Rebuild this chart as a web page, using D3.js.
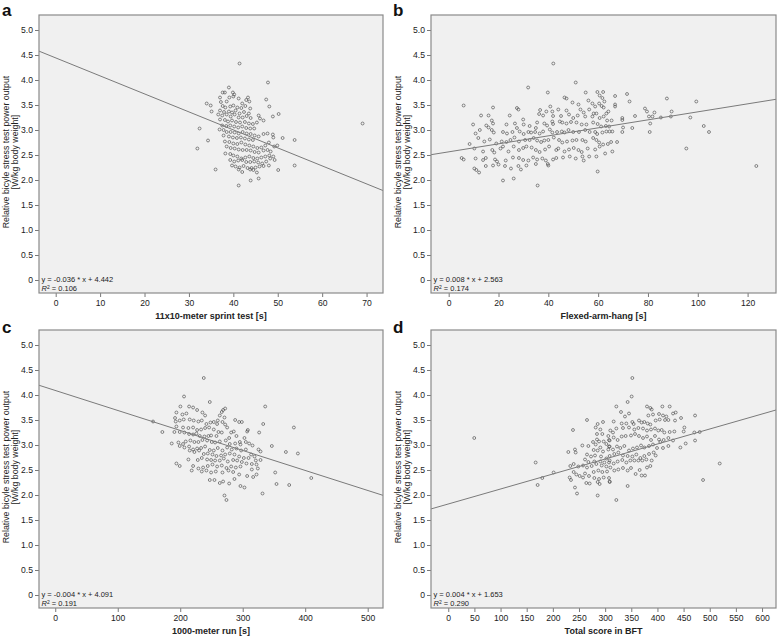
<!DOCTYPE html>
<html><head><meta charset="utf-8">
<script src="https://cdn.jsdelivr.net/npm/d3@7/dist/d3.min.js"></script>
<style>html,body{margin:0;padding:0;background:#fff;}svg{display:block;}</style>
</head><body>
<svg id="chart" width="778" height="637"></svg>
<script>
// ---------------- DATA ----------------
const yTicks = [0, 0.5, 1.0, 1.5, 2.0, 2.5, 3.0, 3.5, 4.0, 4.5, 5.0];
const xTicksA = [0, 10, 20, 30, 40, 50, 60, 70];
const xTicksB = [0, 20, 40, 60, 80, 100, 120];
const xTicksC = [0, 100, 200, 300, 400, 500];
const xTicksD = [0, 50, 100, 150, 200, 250, 300, 350, 400, 450, 500, 550, 600];
const panelLetters = ["a", "b", "c", "d"];
const xTitles = ["11x10-meter sprint test [s]", "Flexed-arm-hang [s]", "1000-meter run [s]", "Total score in BFT"];
const yTitle1 = "Relative bicyle stress test power output";
const yTitle2 = "[W/kg body weight]";
const equations = ["y = -0.036 * x + 4.442", "y = 0.008 * x + 2.563", "y = -0.004 * x + 4.091", "y = 0.004 * x + 1.653"];
const rSquared = ["0.106", "0.174", "0.191", "0.290"];
// fitted lines as drawn [intercept, slope]
const fitA = [4.442, -0.036];
const fitB = [2.563, 0.008];
const fitC = [4.091, -0.004];
const fitD = [1.82, 0.003];

const pointsA = [[41.4,4.33],[69.1,3.13],[47.8,3.95],[39.0,3.85],[37.6,3.75],[38.1,3.75],[39.9,3.75],[40.2,3.71],[40.0,3.67],[39.1,3.65],[37.0,3.65],[41.2,3.63],[43.3,3.65],[43.6,3.57],[42.0,3.53],[47.4,3.61],[37.2,3.56],[38.5,3.57],[42.9,3.6],[34.0,3.53],[34.9,3.49],[48.1,3.47],[50.2,3.32],[48.9,3.27],
[37.6,3.48],[38.2,3.45],[39.3,3.47],[40.0,3.49],[40.9,3.45],[41.8,3.44],[42.7,3.48],[43.8,3.43],[37.0,3.39],[37.9,3.36],[39.0,3.37],[39.7,3.35],[40.5,3.39],[41.4,3.33],[42.4,3.36],[43.5,3.33],[35.1,3.37],[36.6,3.31],[37.5,3.29],[38.5,3.31],[39.4,3.27],[40.3,3.31],[41.2,3.25],[42.1,3.25],[43.0,3.28],[43.9,3.24],[45.7,3.29],[46.0,3.23],[45.3,3.15],[46.8,3.19],
[37.0,3.21],[38.1,3.2],[38.8,3.17],[39.7,3.19],[40.6,3.16],[41.5,3.15],[42.6,3.16],[43.5,3.13],[44.4,3.12],[37.5,3.09],[38.4,3.08],[39.3,3.09],[40.2,3.07],[41.1,3.05],[42.0,3.07],[42.9,3.04],[43.8,3.03],[44.7,3.03],[32.4,3.03],[36.9,3.01],[37.8,3.0],
[38.5,2.96],[39.4,2.96],[40.3,2.95],[41.2,2.93],[42.1,2.96],[43.0,2.93],[43.9,2.92],[44.8,2.89],[45.7,2.87],[37.8,2.89],[39.0,2.87],[39.9,2.85],[40.8,2.84],[41.7,2.85],[42.6,2.83],[43.5,2.81],[44.4,2.8],[46.8,2.92],[47.7,2.93],[48.9,2.91],[49.0,2.85],[51.1,2.84],[53.8,2.8],[34.3,2.79],
[38.1,2.77],[39.1,2.76],[40.0,2.73],[40.9,2.72],[41.8,2.75],[42.7,2.71],[43.6,2.69],[44.5,2.67],[45.4,2.64],[46.3,2.65],[47.2,2.69],[48.0,2.75],[38.5,2.67],[39.4,2.64],[40.3,2.63],[41.2,2.61],[42.1,2.6],[43.0,2.6],[43.9,2.59],[44.8,2.56],[45.7,2.55],[46.8,2.59],[47.7,2.6],[48.4,2.57],[49.2,2.67],[49.9,2.69],[31.9,2.63],
[38.2,2.53],[39.3,2.52],[40.0,2.49],[40.9,2.47],[41.8,2.43],[42.7,2.45],[43.6,2.47],[44.5,2.44],[45.4,2.43],[46.3,2.45],[47.2,2.47],[48.1,2.49],[39.3,2.4],[40.2,2.37],[41.1,2.39],[42.0,2.4],[42.9,2.36],[43.8,2.36],[44.7,2.37],[45.6,2.35],[46.5,2.33],[47.4,2.37],[48.3,2.43],[49.0,2.47],[49.3,2.4],
[39.7,2.29],[40.5,2.27],[41.4,2.25],[42.3,2.28],[43.2,2.24],[44.1,2.24],[45.0,2.25],[45.9,2.27],[46.8,2.28],[48.0,2.29],[36.0,2.21],[41.2,2.21],[43.8,2.21],[44.5,2.2],[42.0,2.16],[45.3,2.15],[53.8,2.29],[50.1,2.2],
[43.9,1.99],[45.7,2.03],[41.2,1.89]];

const pointsB = [[42.0,4.33],[51.0,3.95],[31.9,3.85],[39.8,3.75],[55.0,3.75],[59.7,3.76],[62.0,3.76],
[46.5,3.65],[47.3,3.63],[49.7,3.55],[56.1,3.59],[60.6,3.69],[61.7,3.64],[62.5,3.57],[60.4,3.53],[57.7,3.53],[61.4,3.48],[58.8,3.47],[62.2,3.45],
[6.0,3.49],[17.8,3.45],[27.4,3.44],[28.0,3.41],[36.7,3.4],[40.8,3.47],[39.2,3.37],[41.6,3.37],[44.0,3.41],[47.3,3.39],[52.1,3.51],[52.9,3.41],[56.4,3.41],[54.2,3.35],[58.2,3.33],[59.3,3.33],[63.3,3.33],[64.1,3.37],
[13.0,3.29],[16.0,3.29],[24.5,3.29],[29.9,3.21],[36.3,3.32],[37.9,3.29],[41.9,3.28],[45.1,3.28],[48.3,3.31],[50.0,3.24],[51.8,3.29],[54.8,3.27],[57.7,3.27],[60.6,3.24],[62.2,3.27],[63.6,3.19],
[9.8,3.11],[17.3,3.19],[15.1,3.09],[17.8,3.13],[23.2,3.11],[26.6,3.13],[27.4,3.04],[30.1,3.11],[32.5,3.08],[35.5,3.15],[38.4,3.13],[39.5,3.09],[41.6,3.17],[41.9,3.12],[44.6,3.17],[45.6,3.15],[47.3,3.13],[49.1,3.16],[51.3,3.15],[53.4,3.11],[55.3,3.11],[58.0,3.15],[59.8,3.12],[61.2,3.07],[63.1,3.08],[64.4,3.07],
[10.8,2.93],[12.5,3.0],[16.0,3.05],[17.3,3.0],[18.1,2.95],[21.8,2.96],[23.4,2.93],[25.6,2.96],[28.5,2.97],[30.1,2.92],[32.0,2.96],[33.1,2.95],[35.0,3.04],[34.7,2.96],[36.5,2.93],[37.9,2.97],[40.6,3.01],[41.6,2.95],[43.5,2.96],[45.4,2.97],[46.5,2.95],[48.1,3.0],[50.0,2.96],[52.3,2.96],[54.8,3.0],[56.6,2.96],[58.8,2.96],[59.6,2.92],[61.7,2.95],[63.3,2.97],
[11.9,2.84],[8.4,2.72],[14.3,2.77],[16.5,2.81],[19.1,2.73],[21.3,2.77],[23.2,2.76],[24.8,2.8],[26.4,2.85],[28.2,2.77],[30.7,2.8],[32.5,2.8],[34.1,2.84],[35.5,2.79],[37.1,2.76],[38.4,2.79],[40.0,2.8],[42.2,2.85],[44.3,2.8],[45.6,2.75],[47.5,2.77],[49.7,2.79],[51.3,2.8],[53.7,2.8],[55.0,2.77],[58.0,2.84],[59.3,2.8],[60.4,2.75],[62.0,2.71],[63.9,2.72],
[10.3,2.63],[13.8,2.57],[17.5,2.6],[18.3,2.55],[20.8,2.63],[21.8,2.67],[24.0,2.57],[26.1,2.67],[28.2,2.6],[29.9,2.64],[31.2,2.67],[33.3,2.65],[35.0,2.6],[36.5,2.56],[38.7,2.61],[40.3,2.67],[43.2,2.6],[44.0,2.63],[46.5,2.57],[48.3,2.61],[50.2,2.64],[52.1,2.6],[53.4,2.56],[55.8,2.63],[58.8,2.61],[60.6,2.67],[62.8,2.53],
[5.2,2.44],[6.0,2.41],[10.8,2.43],[13.8,2.4],[14.9,2.44],[18.6,2.41],[19.4,2.37],[22.9,2.39],[25.8,2.45],[28.2,2.44],[29.9,2.4],[32.0,2.39],[33.9,2.45],[35.5,2.41],[37.6,2.43],[39.0,2.39],[39.8,2.32],[41.9,2.41],[43.2,2.44],[45.9,2.45],[48.6,2.47],[51.0,2.43],[53.7,2.47],[54.2,2.39],[56.4,2.47],[59.3,2.47],
[10.3,2.23],[11.1,2.2],[12.2,2.15],[14.9,2.28],[17.8,2.29],[20.0,2.31],[22.6,2.28],[25.0,2.23],[28.0,2.28],[29.0,2.21],[31.2,2.29],[35.0,2.32],[40.0,2.29],[59.8,2.17],
[21.8,1.99],[26.1,2.03],[35.7,1.89],
[66.8,3.68],[71.6,3.72],[72.6,3.57],[66.8,3.51],[66.8,3.47],[87.6,3.63],[99.4,3.57],[78.8,3.43],[79.6,3.37],[82.6,3.35],[89.5,3.37],[74.8,3.28],[80.4,3.27],[81.8,3.27],[85.2,3.25],[89.2,3.27],[97.0,3.25],[69.7,3.24],[69.7,3.2],[65.4,3.19],[80.9,3.13],[70.0,3.05],[73.7,3.04],[102.4,3.08],[64.6,2.97],[65.7,2.97],[69.7,2.96],[80.7,2.96],[104.5,2.96],[65.2,2.76],[67.6,2.76],[65.7,2.57],[95.4,2.63],[123.5,2.28]];

const pointsC = [[237.7,4.34],[206.1,3.97],[247.3,3.86],[336.0,3.77],
[200.3,3.77],[214.2,3.77],[220.6,3.75],[227.0,3.70],[235.5,3.65],[239.8,3.59],[193.9,3.65],[203.5,3.61],[209.9,3.63],[268.6,3.70],[271.9,3.73],[266.5,3.66],[263.3,3.59],[270.8,3.55],[260.1,3.49],[287.9,3.50],[294.3,3.46],[298.6,3.46],[332.8,3.42],
[191.7,3.54],[192.8,3.47],[199.2,3.49],[205.6,3.51],[215.2,3.51],[221.6,3.49],[229.1,3.47],[234.5,3.49],[241.9,3.42],[248.4,3.45],[253.7,3.46],[259.0,3.42],[267.6,3.46],[271.9,3.41],[275.1,3.35],[193.9,3.37],[204.5,3.35],[213.1,3.34],[220.6,3.35],[227.0,3.30],[233.4,3.31],[239.8,3.34],[246.2,3.35],[253.7,3.31],[261.2,3.26],[266.5,3.25],[281.5,3.25],[285.7,3.27],[308.2,3.30],[307.1,3.27],[326.3,3.25],[381.9,3.35],
[156.5,3.47],[171.4,3.26],[190.7,3.26],[199.2,3.26],[206.7,3.25],[214.2,3.22],[220.6,3.21],[225.9,3.23],[231.3,3.18],[238.7,3.17],[245.1,3.18],[249.4,3.19],[258.0,3.18],[278.3,3.14],[290.0,3.18],[295.4,3.06],[302.8,3.14],
[186.4,3.03],[197.1,3.05],[204.5,3.02],[208.8,3.07],[216.3,3.09],[222.7,3.06],[229.1,3.06],[235.5,3.10],[243.0,3.09],[250.5,3.06],[255.8,3.05],[263.3,3.07],[272.9,3.09],[279.3,3.02],[287.9,3.03],[296.4,3.01],[305.0,3.06],[310.3,3.03],[315.7,2.99],[325.3,2.91],[328.5,2.87],[346.6,2.98],[369.1,2.86],[388.3,2.83],
[199.2,2.98],[206.7,2.95],[214.2,2.97],[220.6,2.91],[227.0,2.93],[233.4,2.94],[239.8,2.97],[247.3,2.90],[253.7,2.89],[260.1,2.94],[267.6,2.89],[275.1,2.95],[282.5,2.91],[290.0,2.93],[297.5,2.89],[305.0,2.91],[313.5,2.81],[215.2,2.89],[222.7,2.86],[230.2,2.89],[237.7,2.82],[244.1,2.83],[251.6,2.81],[258.0,2.78],[265.4,2.79],[271.9,2.81],[279.3,2.83],[286.8,2.81],[294.3,2.77],[301.8,2.74],[309.3,2.74],[318.9,2.77],[321.0,2.69],
[213.1,2.71],[228.1,2.70],[234.5,2.74],[243.0,2.71],[249.4,2.70],[255.8,2.69],[263.3,2.69],[269.7,2.73],[276.1,2.67],[284.7,2.70],[291.1,2.69],[298.6,2.66],[306.0,2.63],[314.6,2.62],[322.1,2.61],[328.5,2.70],[193.9,2.63],[199.2,2.58],[220.6,2.58],[229.1,2.53],[236.6,2.55],[244.1,2.58],[251.6,2.61],[259.0,2.57],[266.5,2.59],[274.0,2.54],[281.5,2.57],[289.0,2.55],[296.4,2.57],[314.6,2.51],[324.2,2.53],
[218.4,2.49],[234.5,2.47],[241.9,2.49],[249.4,2.45],[256.9,2.47],[267.6,2.45],[277.2,2.49],[284.7,2.46],[294.3,2.41],[307.1,2.38],[316.7,2.36],[322.1,2.41],[352.0,2.45],[409.7,2.34],
[247.3,2.30],[254.8,2.30],[263.3,2.24],[268.6,2.27],[278.3,2.23],[286.8,2.32],[296.4,2.18],[302.8,2.15],[354.1,2.22],[374.4,2.20],[331.7,2.03],[270.8,1.99],[274.0,1.90]];

const pointsD = [[49.7,3.14],[167.1,2.65],[179.8,2.34],[170.9,2.20],[201.5,2.45],
[265.3,3.50],[285.7,3.42],[295.9,3.46],[238.5,3.30],[281.9,3.35],[290.8,3.31],[284.4,3.22],[294.6,3.22],[306.1,3.18],[284.4,3.11],[288.3,3.07],[297.2,3.07],[307.4,3.10],[302.3,3.02],[276.8,3.06],[281.9,3.01],[256.4,2.99],[267.9,2.98],[290.8,2.95],[307.4,2.97],
[229.6,2.86],[242.3,2.91],[243.6,2.85],[278.1,2.90],[285.7,2.89],[295.9,2.87],[306.1,2.91],[265.3,2.81],[273.0,2.77],[280.6,2.79],[292.1,2.77],[302.3,2.73],[261.5,2.71],[267.9,2.66],[279.3,2.67],[290.8,2.67],[298.5,2.65],[307.4,2.65],[233.4,2.58],[239.8,2.62],[248.7,2.57],[257.7,2.59],[265.3,2.55],[274.2,2.58],[283.2,2.62],[293.4,2.59],[302.3,2.57],
[239.8,2.46],[244.9,2.41],[251.3,2.38],[261.5,2.43],[269.1,2.38],[278.1,2.46],[287.0,2.49],[294.6,2.46],[303.6,2.47],[232.1,2.35],[234.7,2.30],[257.7,2.35],[264.0,2.24],[270.4,2.23],[279.3,2.34],[288.3,2.32],[297.2,2.35],[307.4,2.34],[285.7,2.26],[289.5,2.22],[308.7,2.26],
[242.3,2.15],[246.2,2.03],[285.7,1.99],
[352.0,4.34],[350.7,3.97],[343.0,3.86],[321.4,3.77],[330.3,3.66],[337.9,3.57],[345.6,3.63],[316.3,3.47],[309.9,3.29],[321.4,3.33],[315.0,3.25],[380.0,3.77],[386.4,3.74],[389.0,3.71],[409.4,3.77],[423.4,3.77],[382.6,3.59],[391.5,3.61],[403.0,3.62],[410.6,3.59],[417.0,3.57],[429.8,3.63],[434.9,3.65],[445.1,3.54],
[331.6,3.43],[340.5,3.43],[352.0,3.46],[354.5,3.42],[364.7,3.49],[369.8,3.45],[374.9,3.46],[381.3,3.43],[386.4,3.41],[396.6,3.49],[404.3,3.51],[414.5,3.50],[420.9,3.50],[433.6,3.49],[451.5,3.35],[471.9,3.59],[334.1,3.34],[345.6,3.35],[355.8,3.31],[363.5,3.34],[372.4,3.33],[380.0,3.29],[387.7,3.31],[395.3,3.33],[401.7,3.29],[408.1,3.30],[413.2,3.25],[423.4,3.26],[432.3,3.27],[450.2,3.27],[470.6,3.25],[480.8,3.26],
[308.6,3.09],[316.3,3.15],[323.9,3.10],[331.6,3.17],[339.2,3.18],[349.4,3.19],[357.1,3.22],[364.7,3.18],[372.4,3.14],[380.0,3.17],[387.7,3.10],[395.3,3.18],[403.0,3.11],[405.5,3.06],[411.9,3.10],[420.9,3.14],[429.8,3.09],[443.8,2.95],[454.0,3.03],[471.9,3.09],
[308.6,2.97],[315.0,2.91],[322.6,2.97],[329.0,2.94],[336.7,2.98],[345.6,2.89],[353.2,2.93],[360.9,2.95],[368.6,2.99],[374.9,2.95],[383.9,2.98],[391.5,3.01],[399.2,2.94],[410.6,2.94],[420.9,2.98],
[308.6,2.78],[317.5,2.82],[325.2,2.85],[334.1,2.79],[343.0,2.78],[352.0,2.77],[359.6,2.81],[367.3,2.74],[374.9,2.78],[383.9,2.82],[392.8,2.85],[396.6,2.79],[308.6,2.69],[316.3,2.63],[323.9,2.67],[332.8,2.70],[340.5,2.65],[348.1,2.69],[355.8,2.69],[363.5,2.69],[371.1,2.69],[378.8,2.71],[389.0,2.69],[519.1,2.63],
[309.9,2.55],[317.5,2.49],[325.2,2.51],[334.1,2.54],[343.0,2.49],[349.4,2.54],[358.3,2.42],[366.0,2.50],[369.8,2.39],[376.2,2.39],[380.0,2.55],[386.4,2.58],[487.2,2.30],[343.0,2.18],[321.4,1.90],[308.6,2.27]];

// ---------------- LAYOUT ----------------
const FONT = "'Liberation Sans', Arial, Helvetica, sans-serif";
const yDomain = [-0.26, 5.3];
const panels = [
  {letter: panelLetters[0], pts: pointsA, ticks: xTicksA, fit: fitA, xDomain: [-3.76, 73.7], left: 39, right: 383, top: 15, bottom: 293, lx: 2, ly: 15.5},
  {letter: panelLetters[1], pts: pointsB, ticks: xTicksB, fit: fitB, xDomain: [-7.1, 131.4], left: 431, right: 776, top: 15, bottom: 293, lx: 393, ly: 15.5},
  {letter: panelLetters[2], pts: pointsC, ticks: xTicksC, fit: fitC, xDomain: [-26, 524.5], left: 39, right: 383, top: 330, bottom: 608, lx: 2, ly: 333},
  {letter: panelLetters[3], pts: pointsD, ticks: xTicksD, fit: fitD, xDomain: [-33, 626.7], left: 431, right: 776, top: 330, bottom: 608, lx: 393, ly: 333}
];

const svg = d3.select("#chart");
const yFmt = v => v === 0 ? "0" : d3.format(".1f")(v);

panels.forEach((p, i) => {
  const x = d3.scaleLinear().domain(p.xDomain).range([p.left, p.right]);
  const y = d3.scaleLinear().domain(yDomain).range([p.bottom, p.top]);
  const g = svg.append("g");
  const clipId = "clip" + i;
  svg.append("clipPath").attr("id", clipId).append("rect")
    .attr("x", p.left).attr("y", p.top).attr("width", p.right - p.left).attr("height", p.bottom - p.top);

  g.append("rect").attr("x", p.left).attr("y", p.top)
    .attr("width", p.right - p.left).attr("height", p.bottom - p.top)
    .attr("fill", "#f0f0f0");

  // axes
  const yAxis = d3.axisLeft(y).tickValues(yTicks).tickFormat(yFmt).tickSize(4).tickPadding(2);
  const gy = g.append("g").attr("transform", `translate(${p.left},0)`).call(yAxis);
  const xAxis = d3.axisBottom(x).tickValues(p.ticks).tickFormat(d3.format("d")).tickSize(4).tickPadding(3);
  const gx = g.append("g").attr("transform", `translate(0,${p.bottom})`).call(xAxis);
  [gy, gx].forEach(a => {
    a.select(".domain").remove();
    a.selectAll(".tick line").attr("stroke", "#555").attr("stroke-width", 0.8);
    a.selectAll(".tick text").attr("fill", "#222").style("font-family", FONT).style("font-size", "8.6px");
  });

  // points
  g.append("g").attr("clip-path", `url(#${clipId})`)
    .selectAll("circle").data(p.pts).join("circle")
    .attr("cx", d => x(d[0])).attr("cy", d => y(d[1])).attr("r", 1.45)
    .attr("fill", "none").attr("stroke", "#4a4a4a").attr("stroke-width", 0.65);

  // fit line
  const xs = p.xDomain;
  g.append("line").attr("clip-path", `url(#${clipId})`)
    .attr("x1", x(xs[0])).attr("y1", y(p.fit[0] + p.fit[1] * xs[0]))
    .attr("x2", x(xs[1])).attr("y2", y(p.fit[0] + p.fit[1] * xs[1]))
    .attr("stroke", "#7a7a7a").attr("stroke-width", 1);

  // frame
  g.append("rect").attr("x", p.left).attr("y", p.top)
    .attr("width", p.right - p.left).attr("height", p.bottom - p.top)
    .attr("fill", "none").attr("stroke", "#8a8a8a").attr("stroke-width", 1.2);

  // equation
  g.append("text").attr("x", p.left + 2.5).attr("y", p.bottom - 11)
    .style("font-family", FONT).style("font-size", "7.5px").attr("fill", "#222")
    .text(equations[i]);
  const r = g.append("text").attr("x", p.left + 2.5).attr("y", p.bottom - 2)
    .style("font-family", FONT).style("font-size", "7.5px").attr("fill", "#222");
  r.append("tspan").style("font-style", "italic").text("R");
  r.append("tspan").attr("dy", -2.5).style("font-size", "5px").text("2");
  r.append("tspan").attr("dy", 2.5).text(" = " + rSquared[i]);

  // axis titles
  g.append("text").attr("x", (p.left + p.right) / 2).attr("y", p.bottom + 26)
    .attr("text-anchor", "middle").style("font-family", FONT).style("font-size", "9px")
    .style("font-weight", "bold").attr("fill", "#222").text(xTitles[i]);
  const cy = (p.top + p.bottom) / 2 - 2;
  const bx = p.left - 30;
  g.append("text").attr("transform", `translate(${bx},${cy}) rotate(-90)`)
    .attr("text-anchor", "middle").style("font-family", FONT).style("font-size", "8.8px")
    .attr("fill", "#222").text(yTitle1);
  g.append("text").attr("transform", `translate(${bx + 8.5},${cy}) rotate(-90)`)
    .attr("text-anchor", "middle").style("font-family", FONT).style("font-size", "8.8px")
    .attr("fill", "#222").text(yTitle2);

  // panel letter
  svg.append("text").attr("x", p.lx).attr("y", p.ly)
    .style("font-family", FONT).style("font-size", "17px").style("font-weight", "bold")
    .attr("fill", "#111").text(p.letter);
});
</script>
</body></html>
